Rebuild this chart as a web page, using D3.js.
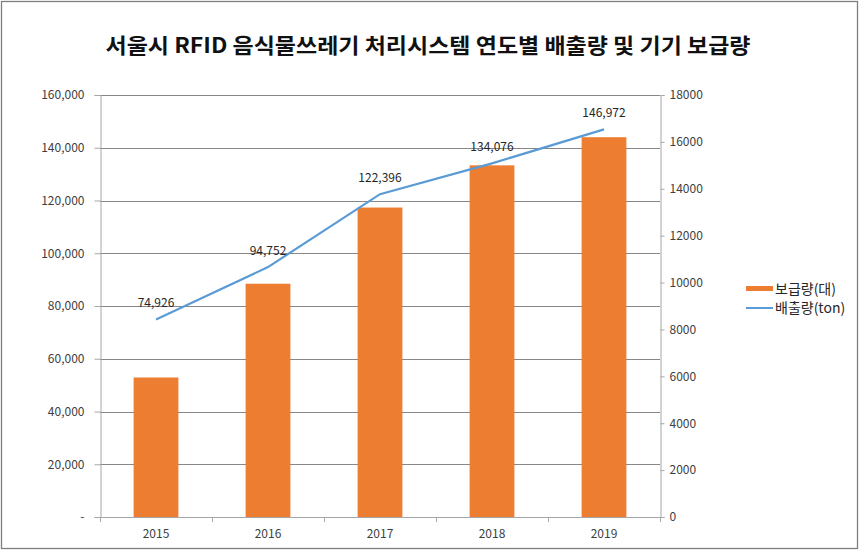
<!DOCTYPE html>
<html><head><meta charset="utf-8">
<script src="https://cdn.jsdelivr.net/npm/d3@7"></script>
<style>body{margin:0;background:#fff}svg{display:block}text{font-family:"Noto Sans CJK KR","Noto Sans",sans-serif}</style>
</head><body><svg id="c" width="860" height="551"></svg>
<script>
const years = ["2015","2016","2017","2018","2019"];
const devices = [5950, 9950, 13200, 15000, 16200];          // 보급량(대), right axis
const emissions = [74926, 94752, 122396, 134076, 146972];   // 배출량(ton), left axis
const leftTicks = [0,20000,40000,60000,80000,100000,120000,140000,160000];
const rightTicks = [0,2000,4000,6000,8000,10000,12000,14000,16000,18000];
const title = "서울시 RFID 음식물쓰레기 처리시스템 연도별 배출량 및 기기 보급량";
const legendNames = ["보급량(대)","배출량(ton)"];

const svg = d3.select("#c");
const L=100,R=660,T=95,B=517;
svg.append("rect").attr("x",1.5).attr("y",1.5).attr("width",856).attr("height",547)
  .attr("fill","#fff").attr("stroke","#7f7f7f").attr("stroke-width",1.3);

const x = d3.scaleBand().domain(years).range([L,R]).paddingInner(0);
const yL = d3.scaleLinear().domain([0,160000]).range([B,T]);
const yR = d3.scaleLinear().domain([0,18000]).range([B,T]);

// gridlines
svg.append("g").selectAll("line").data(leftTicks.slice(1)).join("line")
  .attr("x1",L).attr("x2",R).attr("y1",d=>Math.round(yL(d))+0.5).attr("y2",d=>Math.round(yL(d))+0.5)
  .attr("stroke","#878787").attr("stroke-width",1);

// bars
const bw = x.bandwidth()*0.4;
svg.append("g").selectAll("rect").data(devices).join("rect")
  .attr("x",(d,i)=>x(years[i])+x.bandwidth()/2-bw/2).attr("width",bw)
  .attr("y",d=>yR(d)).attr("height",d=>B-yR(d)).attr("fill","#ED7D31");

// axes
const fmtL = d=> d===0 ? "-" : d3.format(",")(d);
const gL = svg.append("g").attr("transform",`translate(${L+0.5},0)`)
  .call(d3.axisLeft(yL).tickValues(leftTicks).tickFormat(fmtL).tickSize(6).tickPadding(10));
const gR = svg.append("g").attr("transform",`translate(${R+0.5},0)`)
  .call(d3.axisRight(yR).tickValues(rightTicks).tickFormat(d3.format("d")).tickSize(4).tickPadding(5));
const gB = svg.append("g").attr("transform",`translate(0,${B+0.5})`)
  .call(d3.axisBottom(x).tickSize(0).tickPadding(12));
// bottom band boundary ticks
svg.append("g").selectAll("line").data(years.concat(["end"])).join("line")
  .attr("x1",(d,i)=>Math.round(L+i*x.bandwidth())+0.5).attr("x2",(d,i)=>Math.round(L+i*x.bandwidth())+0.5)
  .attr("y1",B).attr("y2",B+5).attr("stroke","#a6a6a6");
[gL,gR,gB].forEach(g=>{
  g.selectAll(".domain").attr("stroke","#a6a6a6");
  g.selectAll(".tick line").attr("stroke","#a6a6a6");
  g.selectAll("text").attr("fill","#404040").style("font-size","12px").attr("font-family","'Noto Sans','Noto Sans CJK KR',sans-serif");
});
gB.select(".domain").attr("d",`M${L},0H${R}`);

// line
const line = d3.line().x((d,i)=>x(years[i])+x.bandwidth()/2).y(d=>yL(d));
svg.append("path").datum(emissions).attr("d",line).attr("fill","none")
  .attr("stroke","#5B9BD5").attr("stroke-width",2.2);
svg.append("g").selectAll("text").data(emissions).join("text")
  .attr("x",(d,i)=>x(years[i])+x.bandwidth()/2).attr("y",d=>yL(d)-12)
  .attr("text-anchor","middle").attr("fill","#262626").style("font-size","12px")
  .attr("font-family","'Noto Sans',sans-serif").text(d=>d3.format(",")(d));

// title
svg.append("text").attr("x",428).attr("y",53).attr("text-anchor","middle")
  .attr("font-weight","bold").style("font-size","21px").attr("fill","#111")
  .attr("textLength",645).attr("lengthAdjust","spacingAndGlyphs").text(title);

// legend
const lg = svg.append("g");
lg.append("rect").attr("x",746).attr("y",286).attr("width",27).attr("height",5).attr("fill","#ED7D31");
lg.append("line").attr("x1",746).attr("x2",773).attr("y1",308).attr("y2",308).attr("stroke","#5B9BD5").attr("stroke-width",2);
lg.selectAll("text").data(legendNames).join("text")
  .attr("x",775).attr("y",(d,i)=>294+i*19).attr("fill","#262626").style("font-size","14px").text(d=>d);
</script></body></html>
